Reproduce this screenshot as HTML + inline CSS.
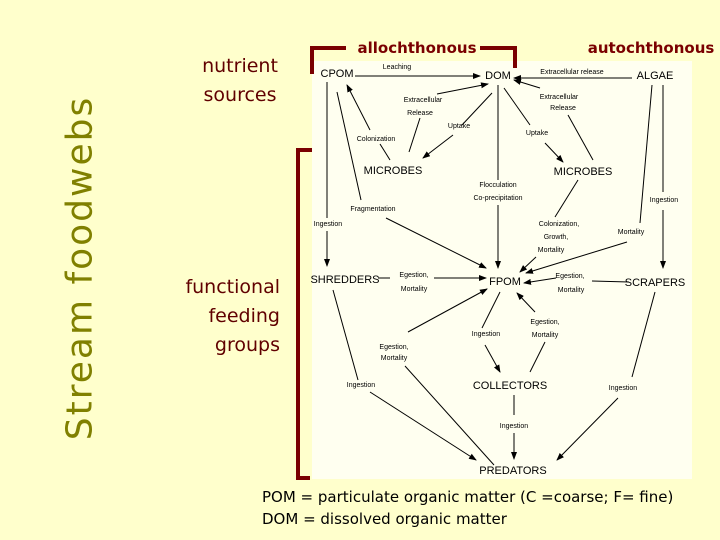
<!DOCTYPE html>
<html><head><meta charset="utf-8"><style>
html,body{margin:0;padding:0}
body{width:720px;height:540px;background:#ffffcc;position:relative;overflow:hidden;font-family:"DejaVu Sans","Liberation Sans",sans-serif}
.t{position:absolute;color:#600000;font-size:19px;line-height:29px;font-family:"DejaVu Sans",sans-serif}
</style></head><body>
<div style="position:absolute;left:80px;top:268px;transform:translate(-50%,-50%) rotate(-90deg);color:#808000;font-size:36px;white-space:nowrap;letter-spacing:2px;font-family:'DejaVu Sans',sans-serif">Stream foodwebs</div>
<div class="t" style="left:190px;top:52px;width:100px;text-align:center">nutrient<br>sources</div>
<div class="t" style="left:140px;top:273px;width:140px;text-align:right">functional<br>feeding<br>groups</div>
<div style="position:absolute;left:262px;top:486px;font-size:15px;line-height:22px;color:#000;white-space:nowrap;font-family:'DejaVu Sans',sans-serif">POM = particulate organic matter (C =coarse; F= fine)<br>DOM = dissolved organic matter</div>
<svg width="720" height="540" style="position:absolute;left:0;top:0" font-family="Liberation Sans, sans-serif">
<defs><marker id="a" markerWidth="8" markerHeight="6" refX="7" refY="3" orient="auto" markerUnits="userSpaceOnUse"><path d="M0,0L8,3L0,6z" fill="#000"/></marker></defs>
<rect x="312" y="61" width="380" height="418" fill="#fffff0"/>
<g fill="none" stroke="#7a0000" stroke-width="4">
<path d="M312,74V48H346"/><path d="M480,48H515V68"/><path d="M310,478H298V150H312"/>
</g>
<text x="417" y="53" text-anchor="middle" font-family="DejaVu Sans, sans-serif" font-weight="bold" font-size="15" fill="#7a0000">allochthonous</text>
<text x="651" y="53" text-anchor="middle" font-family="DejaVu Sans, sans-serif" font-weight="bold" font-size="15" fill="#7a0000">autochthonous</text>
<g font-size="11" fill="#000" text-anchor="middle">
<text x="337" y="77">CPOM</text><text x="498" y="79">DOM</text><text x="655" y="79">ALGAE</text>
<text x="393" y="174">MICROBES</text><text x="583" y="175">MICROBES</text>
<text x="345" y="283">SHREDDERS</text><text x="505" y="285">FPOM</text><text x="655" y="286">SCRAPERS</text>
<text x="510" y="389">COLLECTORS</text><text x="513" y="474">PREDATORS</text>
</g>
<g font-size="7" fill="#000" text-anchor="middle">
<text x="397" y="69">Leaching</text><text x="572" y="74">Extracellular release</text>
<text x="423" y="102">Extracellular</text><text x="420" y="115">Release</text>
<text x="459" y="128">Uptake</text><text x="376" y="141">Colonization</text>
<text x="559" y="99">Extracellular</text><text x="563" y="110">Release</text>
<text x="537" y="135">Uptake</text>
<text x="498" y="187">Flocculation</text><text x="498" y="200">Co-precipitation</text>
<text x="373" y="211">Fragmentation</text><text x="328" y="226">Ingestion</text>
<text x="559" y="226">Colonization,</text><text x="556" y="239">Growth,</text><text x="551" y="252">Mortality</text>
<text x="631" y="234">Mortality</text><text x="664" y="202">Ingestion</text>
<text x="414" y="277">Egestion,</text><text x="414" y="291">Mortality</text>
<text x="570" y="278">Egestion,</text><text x="571" y="292">Mortality</text>
<text x="486" y="336">Ingestion</text><text x="545" y="324">Egestion,</text><text x="545" y="337">Mortality</text>
<text x="394" y="349">Egestion,</text><text x="394" y="360">Mortality</text>
<text x="361" y="387">Ingestion</text><text x="623" y="390">Ingestion</text><text x="514" y="428">Ingestion</text>
</g>
<g stroke="#000" stroke-width="1" fill="none">
<line x1="355" y1="76" x2="480" y2="76" marker-end="url(#a)"/>
<line x1="632" y1="78" x2="514" y2="78" marker-end="url(#a)"/>
<line x1="409" y1="152" x2="420" y2="118"/><line x1="437" y1="94" x2="488" y2="84" marker-end="url(#a)"/>
<line x1="492" y1="93" x2="462" y2="125"/><line x1="453" y1="135" x2="423" y2="158" marker-end="url(#a)"/>
<line x1="390" y1="160" x2="380" y2="144"/><line x1="370" y1="130" x2="347" y2="85" marker-end="url(#a)"/>
<line x1="337" y1="92" x2="361" y2="200"/><line x1="386" y1="218" x2="486" y2="268" marker-end="url(#a)"/>
<line x1="327" y1="82" x2="327" y2="218"/><line x1="327" y1="231" x2="327" y2="266" marker-end="url(#a)"/>
<line x1="498" y1="85" x2="498" y2="180"/><line x1="498" y1="205" x2="498" y2="268" marker-end="url(#a)"/>
<line x1="504" y1="88" x2="530" y2="125"/><line x1="545" y1="143" x2="563" y2="162" marker-end="url(#a)"/>
<line x1="593" y1="160" x2="568" y2="115"/><line x1="540" y1="88" x2="514" y2="80" marker-end="url(#a)"/>
<line x1="578" y1="180" x2="555" y2="217"/><line x1="536" y1="257" x2="520" y2="272" marker-end="url(#a)"/>
<line x1="652" y1="85" x2="640" y2="223"/><line x1="627" y1="242" x2="526" y2="273" marker-end="url(#a)"/>
<line x1="663" y1="85" x2="663" y2="192"/><line x1="663" y1="210" x2="663" y2="268" marker-end="url(#a)"/>
<line x1="378" y1="278" x2="390" y2="278"/><line x1="434" y1="278" x2="486" y2="278" marker-end="url(#a)"/>
<line x1="629" y1="282" x2="592" y2="281"/><line x1="556" y1="278" x2="524" y2="283" marker-end="url(#a)"/>
<line x1="500" y1="292" x2="482" y2="328"/><line x1="485" y1="345" x2="500" y2="372" marker-end="url(#a)"/>
<line x1="530" y1="372" x2="545" y2="342"/><line x1="535" y1="312" x2="517" y2="293" marker-end="url(#a)"/>
<line x1="408" y1="332" x2="487" y2="289" marker-end="url(#a)"/><line x1="405" y1="366" x2="494" y2="465"/>
<line x1="333" y1="290" x2="358" y2="380"/><line x1="370" y1="392" x2="476" y2="460" marker-end="url(#a)"/>
<line x1="655" y1="292" x2="632" y2="377"/><line x1="618" y1="398" x2="557" y2="460" marker-end="url(#a)"/>
<line x1="514" y1="395" x2="514" y2="415"/><line x1="514" y1="433" x2="514" y2="459" marker-end="url(#a)"/>
</g>
</svg>
</body></html>
